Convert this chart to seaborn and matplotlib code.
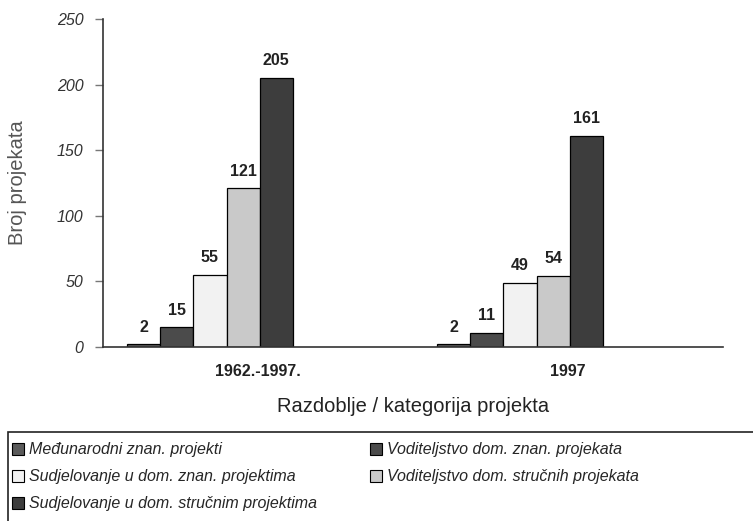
import pandas as pd
import matplotlib.pyplot as plt
import matplotlib.patches as mpatches
import seaborn as sns

# podaci s grafikona
razdoblja = ["1962.-1997.", "1997"]
kategorije = [
    "Međunarodni znan. projekti",
    "Voditeljstvo dom. znan. projekata",
    "Sudjelovanje u dom. znan. projektima",
    "Voditeljstvo dom. stručnih projekata",
    "Sudjelovanje u dom. stručnim projektima",
]
vrijednosti_1962_1997 = [2, 15, 55, 121, 205]
vrijednosti_1997 = [2, 11, 49, 54, 161]
boje = ["#5a5a5a", "#4b4b4b", "#f2f2f2", "#c9c9c9", "#3d3d3d"]

df = pd.DataFrame({
    "razdoblje": [razdoblja[0]] * 5 + [razdoblja[1]] * 5,
    "kategorija": kategorije * 2,
    "broj": vrijednosti_1962_1997 + vrijednosti_1997,
})

sns.set_style("white")
plt.rcParams["font.family"] = ["Liberation Sans", "DejaVu Sans"]

fig = plt.figure(figsize=(7.53, 5.21), dpi=100)
ax = fig.add_axes([0.1368, 0.334, 0.8234, 0.6295])

sns.barplot(data=df, x="razdoblje", y="broj", hue="kategorija",
            hue_order=kategorije, palette=boje, width=0.535,
            edgecolor="black", linewidth=0.9, saturation=1,
            legend=False, ax=ax)

for cont in ax.containers:
    ax.bar_label(cont, padding=7, fontsize=11.5, fontweight="bold", color="#222222")

# raspored osi kao na originalu (grupa stupaca pomaknuta ulijevo)
pomak = 0.155
ax.set_xlim(-0.345, 1.655)
ax.set_ylim(0, 250)
ax.set_xticks([0 + pomak, 1 + pomak])
ax.set_xticklabels(razdoblja, fontweight="bold", fontsize=11.5, color="#222222")
ax.set_xticks([-0.345, 0.655, 1.655], minor=True)
ax.tick_params(axis="x", which="major", length=0, pad=12)
ax.tick_params(axis="x", which="minor", length=10, direction="inout",
               width=1, color="#333333")
ax.set_yticks([0, 50, 100, 150, 200, 250])
ax.tick_params(axis="y", length=6, direction="out", left=True, width=1,
               color="#777777", labelsize=11.5, labelcolor="#333333", pad=8)
for lab in ax.get_yticklabels():
    lab.set_fontstyle("italic")

sns.despine(ax=ax)
for s in ["left", "bottom"]:
    ax.spines[s].set_color("#333333")
    ax.spines[s].set_linewidth(1.2)

ax.set_xlabel("Razdoblje / kategorija projekta", fontsize=14.5, color="#222222",
              labelpad=13)
ax.set_ylabel("Broj projekata", fontsize=14.5, color="#555555")
ax.yaxis.set_label_coords(-0.122, 0.5)

# legenda u okviru ispod grafikona
ruke = [mpatches.Patch(facecolor=b, edgecolor="black", linewidth=0.8) for b in boje]
redoslijed = [0, 2, 4, 1, 3]
fig.legend([ruke[i] for i in redoslijed], [kategorije[i] for i in redoslijed],
           ncol=2, loc="upper left", bbox_to_anchor=(0.008, 0.163),
           frameon=False, prop={"style": "italic", "size": 11.5},
           handlelength=0.75, handleheight=0.75, handletextpad=0.3,
           labelspacing=0.75, columnspacing=3.3, borderaxespad=0)
fig.patches.append(mpatches.Rectangle((0.011, -0.01), 1.0, 0.18,
                                      transform=fig.transFigure, fill=False,
                                      edgecolor="#222222", linewidth=1.2))

fig.savefig("out.png", dpi=100)
